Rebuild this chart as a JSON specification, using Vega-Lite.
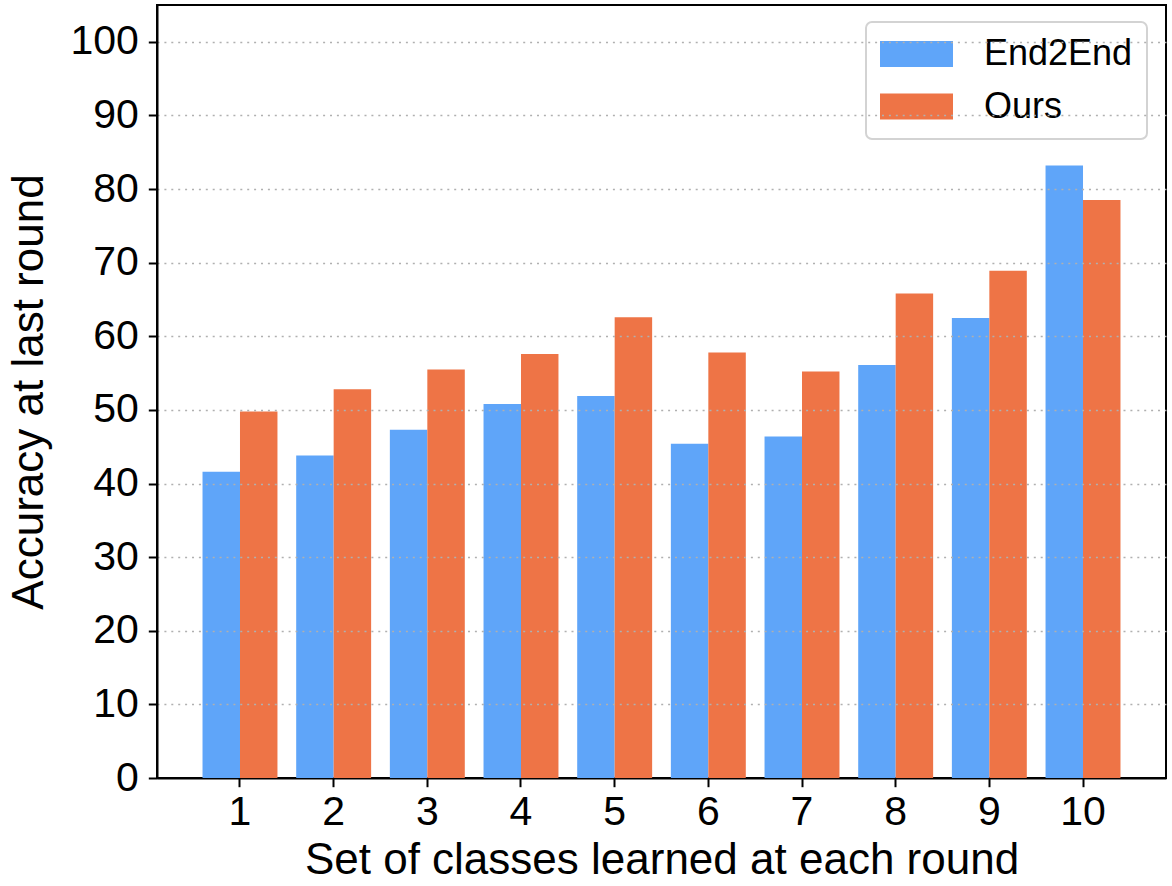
{
  "$schema": "https://vega.github.io/schema/vega-lite/v6.json",
  "width": 1009,
  "height": 773,
  "autosize": "none",
  "padding": {"left": 157, "top": 5, "right": 6, "bottom": 108},
  "background": "white",
  "config": {
    "font": "Liberation Sans",
    "view": {"stroke": "black", "strokeWidth": 2},
    "legend": {"strokeWidth": 2},
    "axis": {
      "labelFont": "Liberation Sans",
      "titleFont": "Liberation Sans",
      "labelColor": "black",
      "titleColor": "black",
      "domainColor": "black",
      "tickColor": "black",
      "domainWidth": 2,
      "tickWidth": 2,
      "tickSize": 8.7,
      "labelFontSize": 41,
      "titleFontSize": 44,
      "titleFontWeight": "normal"
    }
  },
  "data": {
    "values": [
      {"round": 1, "method": "End2End", "acc": 41.6},
      {"round": 1, "method": "Ours", "acc": 49.8},
      {"round": 2, "method": "End2End", "acc": 43.8},
      {"round": 2, "method": "Ours", "acc": 52.8},
      {"round": 3, "method": "End2End", "acc": 47.3},
      {"round": 3, "method": "Ours", "acc": 55.5},
      {"round": 4, "method": "End2End", "acc": 50.8},
      {"round": 4, "method": "Ours", "acc": 57.6},
      {"round": 5, "method": "End2End", "acc": 51.9},
      {"round": 5, "method": "Ours", "acc": 62.6},
      {"round": 6, "method": "End2End", "acc": 45.4},
      {"round": 6, "method": "Ours", "acc": 57.8},
      {"round": 7, "method": "End2End", "acc": 46.4},
      {"round": 7, "method": "Ours", "acc": 55.2},
      {"round": 8, "method": "End2End", "acc": 56.1},
      {"round": 8, "method": "Ours", "acc": 65.8},
      {"round": 9, "method": "End2End", "acc": 62.5},
      {"round": 9, "method": "Ours", "acc": 68.9},
      {"round": 10, "method": "End2End", "acc": 83.2},
      {"round": 10, "method": "Ours", "acc": 78.5}
    ]
  },
  "mark": {"type": "bar"},
  "encoding": {
    "x": {
      "field": "round",
      "type": "ordinal",
      "scale": {"paddingInner": 0.2, "paddingOuter": 0.486},
      "axis": {
        "title": "Set of classes learned at each round",
        "labelAngle": 0,
        "labelPadding": 6,
        "titlePadding": 6,
        "grid": false
      }
    },
    "xOffset": {"field": "method", "type": "nominal", "scale": {"paddingInner": 0, "paddingOuter": 0}},
    "y": {
      "field": "acc",
      "type": "quantitative",
      "scale": {"domain": [0, 105], "nice": false, "zero": true},
      "axis": {
        "title": "Accuracy at last round",
        "values": [0, 10, 20, 30, 40, 50, 60, 70, 80, 90, 100],
        "grid": true,
        "gridColor": "#b0b0b0",
        "gridDash": [2, 4.9],
        "gridWidth": 1.5,
        "gridOpacity": {"condition": {"test": "datum.value === 0", "value": 0}, "value": 1},
        "labelPadding": 10,
        "titlePadding": 18,
        "zindex": 1
      }
    },
    "color": {
      "field": "method",
      "type": "nominal",
      "scale": {"domain": ["End2End", "Ours"], "range": ["#5fa5f9", "#ee7446"]},
      "legend": {
        "title": null,
        "orient": "none",
        "legendX": 709,
        "legendY": 17,
        "direction": "vertical",
        "symbolType": "M-1,-0.356L1,-0.356L1,0.356L-1,0.356Z",
        "symbolSize": 5329,
        "symbolStrokeWidth": 0,
        "symbolOpacity": 1,
        "clipHeight": 36,
        "rowPadding": 16.5,
        "labelOffset": 31,
        "labelFontSize": 36,
        "labelFont": "Liberation Sans",
        "labelColor": "black",
        "padding": 14,
        "strokeColor": "#d3d3d3",
        "cornerRadius": 6,
        "fillColor": "rgba(255,255,255,0.85)"
      }
    }
  }
}
